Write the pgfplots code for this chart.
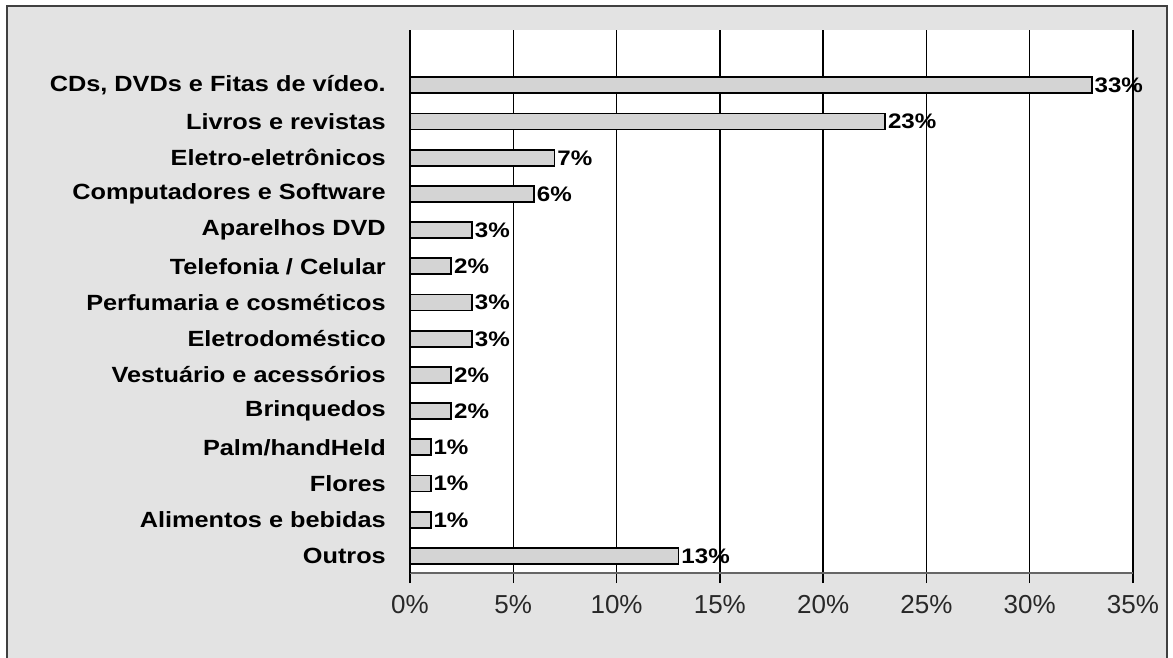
\documentclass[border=0pt]{standalone}
\usepackage{fontspec}
\setmainfont{Liberation Sans}
\newfontfamily\lblfont[FakeStretch=1.15]{Liberation Sans}
\usepackage{pgfplots}
\pgfplotsset{compat=1.18}
\definecolor{bgray}{RGB}{227,227,227}
\definecolor{barfill}{RGB}{212,212,212}
\definecolor{ticktext}{RGB}{40,40,40}

\begin{document}
\begin{tikzpicture}
% moldura cinza externa
\begin{scope}
\clip (-410pt,-84pt) rectangle (763pt,573pt);
\fill[white] (-410pt,-84pt) rectangle (763pt,573pt);
\filldraw[fill=bgray, draw=black!75, line width=2pt] (-403pt,-120pt) rectangle (757pt,567pt);
\end{scope}

\begin{axis}[
    at={(0pt,0pt)}, anchor=south west,
    scale only axis,
    width=723pt, height=543pt,
    xbar, bar width=16pt,
    xmin=0, xmax=35,
    ymin=-0.47, ymax=14.53,
    clip=false,
    axis background/.style={fill=white},
    axis x line*=bottom,
    axis y line*=left,
    x axis line style={draw=black!60, line width=1.5pt, -},
    y axis line style={black, line width=1.6pt, -},
    xmajorgrids,
    grid style={black, line width=1.5pt},
    xtick={0,5,...,35},
    /pgf/number format/assume math mode=true,
    xticklabel={\pgfmathprintnumber{\tick}\%},
    xticklabel style={font=\fontsize{26}{26}\selectfont, text=ticktext, yshift=-9pt},
    tick align=outside,
    major tick length=10pt,
    xtick style={black, line width=1.5pt},
    ytick={0,...,13},
    ytick style={draw=none},
    yticklabels={Outros, Alimentos e bebidas, Flores, Palm/handHeld, Brinquedos,
        Vestuário e acessórios, Eletrodoméstico, Perfumaria e cosméticos,
        Telefonia / Celular, Aparelhos DVD, Computadores e Software,
        Eletro-eletrônicos, Livros e revistas, {CDs, DVDs e Fitas de vídeo.}},
    yticklabel style={font=\lblfont\bfseries\fontsize{22}{22}\selectfont, inner sep=0pt, xshift=-14pt},
    nodes near coords={\pgfmathprintnumber{\pgfplotspointmeta}\%},
    nodes near coords style={font=\lblfont\bfseries\fontsize{21}{21}\selectfont, inner sep=2pt, anchor=west, black},
]

\addplot[fill=barfill, draw=black, line width=1.8pt]
coordinates {
    (13,0) (1,1) (1,2) (1,3) (2,4) (2,5) (3,6)
    (3,7) (2,8) (3,9) (6,10) (7,11) (23,12) (33,13)
};

\end{axis}
\pgfresetboundingbox
\useasboundingbox (-410pt,-84pt) rectangle (763pt,573pt);
\end{tikzpicture}
\end{document}
